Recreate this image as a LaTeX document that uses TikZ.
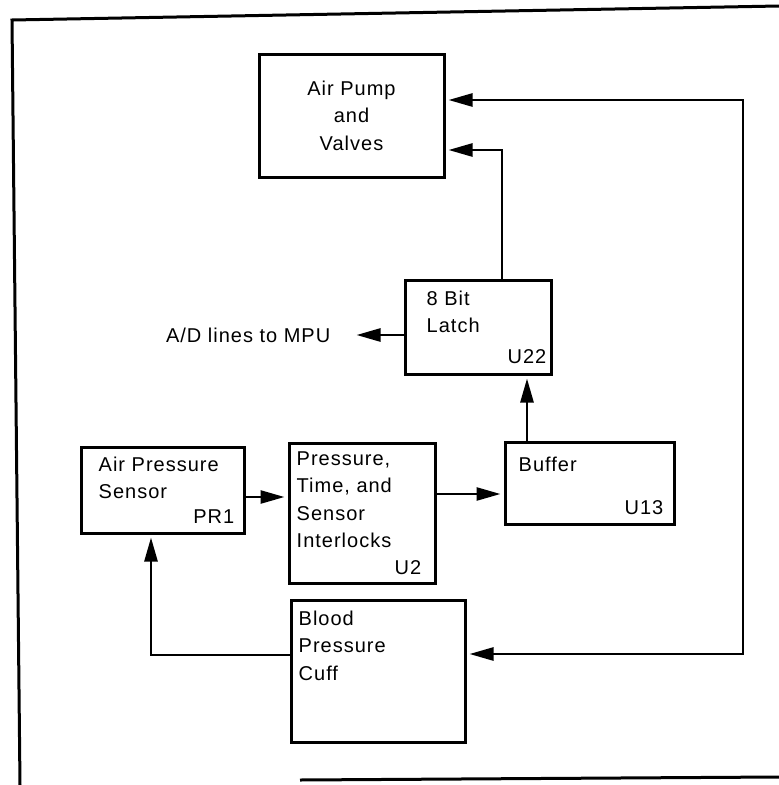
\documentclass[tikz,border=0pt]{standalone}
\usepackage{fontspec}
\setmainfont{Liberation Sans}[LetterSpace=5]
\usetikzlibrary{positioning,arrows.meta}
\tikzset{
  blk/.style={rectangle,draw=black,line width=3pt,inner sep=0pt},
  txt/.style={inner sep=0pt,align=left,font=\fontsize{20}{27.5}\selectfont},
  wire/.style={line width=2.6pt,black},
  arr/.style={wire,-{Triangle[length=24pt,width=13pt]},shorten >=3pt},
  dbl/.style={wire,{Triangle[length=24pt,width=13pt]}-{Triangle[length=24pt,width=13pt]},shorten >=3pt,shorten <=3pt},
  frm/.style={line width=3pt,black},
}
\begin{document}
\begin{tikzpicture}[x=1pt,y=-1pt]
  \useasboundingbox (0,0) rectangle (779,785);
  % outer frame
  \draw[frm] (779,6) -- (12,20) -- (20,785);
  \draw[frm] (300,780) -- (779,777);
  % blocks
  \node[blk,txt,align=center,minimum width=185pt,minimum height=123pt](pump) at (351.5,115.5){Air Pump\\and\\Valves};
  \node[blk,minimum width=146pt,minimum height=94pt](latch) at (478,327){};
  \node[blk,minimum width=163pt,minimum height=86pt](sensor) at (162.5,490){};
  \node[blk,minimum width=146pt,minimum height=140pt](press) at (362,513){};
  \node[blk,minimum width=169pt,minimum height=82pt](buffer) at (589.5,483){};
  \node[blk,minimum width=174pt,minimum height=142pt](cuff) at (378,671){};
  % block texts
  \node[txt,below right=12pt and 23pt of latch.north west](latchT){8 Bit\\Latch};
  \node[txt,above left=12pt and 6pt of latch.south east](latchU){U22};
  \node[txt,below right=11pt and 19pt of sensor.north west](sensorT){Air Pressure\\Sensor};
  \node[txt,above left=11pt and 11pt of sensor.south east](sensorU){PR1};
  \node[txt,below right=10pt and 9pt of press.north west](pressT){Pressure,\\Time, and\\Sensor\\Interlocks};
  \node[txt,above left=10pt and 15pt of press.south east](pressU){U2};
  \node[txt,below right=16pt and 15pt of buffer.north west](bufferT){Buffer};
  \node[txt,above left=11pt and 12pt of buffer.south east](bufferU){U13};
  \node[txt,below right=12pt and 9pt of cuff.north west](cuffT){Blood\\Pressure\\Cuff};
  % A/D output
  \coordinate (ad) at ([yshift=-8pt]latch.west);
  \coordinate (adE) at ([xshift=-50pt]ad);
  \node[txt,left=23pt of adE](adT){A/D lines to MPU};
  \draw[arr] (ad) -- (adE);
  % connectors
  \coordinate (loop) at (743,380);
  \draw[dbl] ([yshift=15.5pt]pump.east) -| (loop) |- ([yshift=17pt]cuff.east);
  \draw[arr] ([xshift=24pt]latch.north) |- ([yshift=-34.5pt]pump.east);
  \draw[arr] ([xshift=-62.5pt]buffer.north) -- ([xshift=49pt]latch.south);
  \coordinate (s1) at ([yshift=-7pt]sensor.east);
  \draw[arr] (s1) -- (s1 -| press.west);
  \coordinate (p1) at ([yshift=19pt]press.east);
  \draw[arr] (p1) -- (p1 -| buffer.west);
  \draw[arr] ([yshift=16pt]cuff.west) -| ([xshift=-11.5pt]sensor.south);
\end{tikzpicture}
\end{document}
